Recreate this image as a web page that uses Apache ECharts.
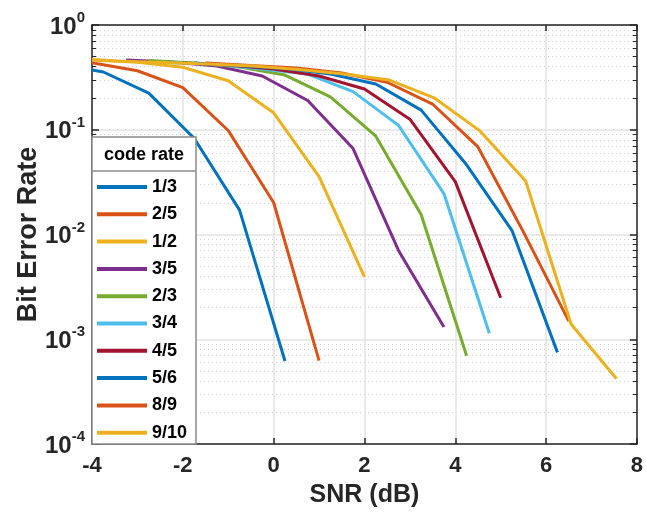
<!DOCTYPE html>
<html>
<head>
<meta charset="utf-8">
<script src="https://cdn.jsdelivr.net/npm/echarts@6/dist/echarts.min.js"></script>
<style>
html,body{margin:0;padding:0;background:#fff;}
#chart{width:646px;height:513px;}
</style>
</head>
<body>
<div id="chart"></div>
<script>
// ---- data ----
const rateNames = ['1/3','2/5','1/2','3/5','2/3','3/4','4/5','5/6','8/9','9/10'];
const rateColors = ['#0072BD','#D95319','#EDB120','#7E2F8E','#77AC30','#4DBEEE','#A2142F','#0072BD','#D95319','#EDB120'];

const snr_1_3 = [-4, -3.75, -2.75, -1.75, -0.75, 0.25];
const ber_1_3 = [0.372, 0.356, 0.224, 0.083, 0.0171, 0.00062];

const snr_2_5 = [-4, -3, -2, -1, 0, 1];
const ber_2_5 = [0.437, 0.366, 0.252, 0.0984, 0.0202, 0.000624];

const snr_1_2 = [-4, -3, -2, -1, 0, 1, 2];
const ber_1_2 = [0.463, 0.44, 0.395, 0.294, 0.145, 0.0356, 0.00395];

const snr_3_5 = [-3.25, -2.25, -1.25, -0.25, 0.75, 1.75, 2.75, 3.75];
const ber_3_5 = [0.463, 0.443, 0.406, 0.326, 0.190, 0.0661, 0.00705, 0.00131];

const snr_2_3 = [-2.75, -1.75, -0.75, 0.25, 1.25, 2.25, 3.25, 4.25];
const ber_2_3 = [0.458, 0.434, 0.397, 0.333, 0.206, 0.0868, 0.01545, 0.000695];

const snr_3_4 = [-2.25, -1.25, -0.25, 0.75, 1.75, 2.75, 3.75, 4.75];
const ber_3_4 = [0.437, 0.42, 0.38, 0.34, 0.231, 0.110, 0.0246, 0.00114];

const snr_4_5 = [-2, -1, 0, 1, 2, 3, 4, 5];
const ber_4_5 = [0.434, 0.415, 0.38, 0.326, 0.245, 0.126, 0.032, 0.00249];

const snr_5_6 = [-1.75, -0.75, 0.25, 1.25, 2.25, 3.25, 4.25, 5.25, 6.25];
const ber_5_6 = [0.434, 0.41, 0.385, 0.34, 0.273, 0.154, 0.0463, 0.0109, 0.000749];

const snr_8_9 = [-1.5, -0.5, 0.5, 1.5, 2.5, 3.5, 4.5, 5.5, 6.5];
const ber_8_9 = [0.434, 0.41, 0.389, 0.348, 0.284, 0.176, 0.0685, 0.0106, 0.00149];

const snr_9_10 = [-4, -3.45, -2.45, -1.45, -0.45, 0.55, 1.55, 2.55, 3.55, 4.55, 5.55, 6.55, 7.55];
const ber_9_10 = [0.469, 0.453, 0.439, 0.424, 0.406, 0.376, 0.34, 0.298, 0.2, 0.097, 0.0324, 0.0014, 0.00042];

const snrLists = [snr_1_3, snr_2_5, snr_1_2, snr_3_5, snr_2_3, snr_3_4, snr_4_5, snr_5_6, snr_8_9, snr_9_10];
const berLists = [ber_1_3, ber_2_5, ber_1_2, ber_3_5, ber_2_3, ber_3_4, ber_4_5, ber_5_6, ber_8_9, ber_9_10];

const xMin = -4, xMax = 8, xStep = 2;
const yMin = 1e-4, yMax = 1;
const xTitle = 'SNR (dB)';
const yTitle = 'Bit Error Rate';
const legendTitle = 'code rate';

// ---- chart ----
const FONT = '"Liberation Sans", Arial, Helvetica, sans-serif';
const AX = '#262626';
const chart = echarts.init(document.getElementById('chart'), null, {renderer: 'canvas'});

const series = rateNames.map((n, i) => ({
  name: n,
  type: 'line',
  data: snrLists[i].map((x, k) => [x, berLists[i][k]]),
  showSymbol: false,
  symbol: 'none',
  lineStyle: {width: 3, color: rateColors[i]},
  itemStyle: {color: rateColors[i]},
  emphasis: {disabled: true},
  z: 3,
  clip: true
}));

const G = {left: 92, right: 2, top: 25, bottom: 69};

chart.setOption({
  animation: false,
  backgroundColor: '#fff',
  grid: G,
  xAxis: [{
    type: 'value', min: xMin, max: xMax, interval: xStep,
    position: 'bottom',
    axisLine: {show: true, onZero: false, lineStyle: {color: AX, width: 1.5}},
    axisTick: {show: true, inside: true, length: 6, lineStyle: {color: AX, width: 1.5}},
    axisLabel: {color: AX, fontFamily: FONT, fontWeight: 'bold', fontSize: 22, margin: 11},
    splitLine: {show: true, lineStyle: {color: '#e3e3e3', width: 1.5}},
    name: xTitle, nameLocation: 'middle', nameGap: 39, nameMoveOverlap: false,
    nameTextStyle: {color: AX, fontFamily: FONT, fontWeight: 'bold', fontSize: 25}
  }, {
    type: 'value', min: xMin, max: xMax, interval: xStep,
    position: 'top',
    axisLine: {show: true, onZero: false, lineStyle: {color: AX, width: 1.5}},
    axisTick: {show: true, inside: true, length: 6, lineStyle: {color: AX, width: 1.5}},
    axisLabel: {show: false},
    splitLine: {show: false}
  }],
  yAxis: [{
    type: 'log', logBase: 10, min: yMin, max: yMax,
    position: 'left',
    axisLine: {show: true, onZero: false, lineStyle: {color: AX, width: 1.5}},
    axisTick: {show: true, inside: true, length: 7, lineStyle: {color: AX, width: 1.5}},
    minorTick: {show: true, splitNumber: 9, length: 4, lineStyle: {color: AX, width: 1}},
    minorSplitLine: {show: true, lineStyle: {color: '#cfcfcf', width: 1, type: [1, 3]}},
    splitLine: {show: true, lineStyle: {color: '#e3e3e3', width: 1.5}},
    axisLabel: {
      margin: 7,
      formatter: function (v) {
        const e = Math.round(Math.log10(v));
        return '{b|10}{s|' + e + '}';
      },
      rich: {
        b: {color: AX, fontFamily: FONT, fontWeight: 'bold', fontSize: 24, padding: [4, 0, 0, 0]},
        s: {color: AX, fontFamily: FONT, fontWeight: 'bold', fontSize: 15, padding: [0, 0, 14, 0]}
      }
    },
    name: yTitle, nameLocation: 'middle', nameGap: 50, nameMoveOverlap: false,
    nameTextStyle: {color: AX, fontFamily: FONT, fontWeight: 'bold', fontSize: 27}
  }, {
    type: 'log', logBase: 10, min: yMin, max: yMax,
    position: 'right',
    axisLine: {show: true, onZero: false, lineStyle: {color: AX, width: 1.5}},
    axisTick: {show: true, inside: true, length: 7, lineStyle: {color: AX, width: 1.5}},
    minorTick: {show: true, splitNumber: 9, length: 4, lineStyle: {color: AX, width: 1}},
    axisLabel: {show: false},
    splitLine: {show: false}
  }],
  legend: {
    data: rateNames,
    orient: 'vertical',
    left: 97, top: 177,
    padding: 0,
    itemWidth: 50, itemHeight: 4,
    itemGap: 7.3,
    icon: 'rect',
    z: 30,
    selectedMode: false,
    textStyle: {color: '#000', fontFamily: FONT, fontWeight: 'bold', fontSize: 18, lineHeight: 20}
  },
  graphic: [
    {type: 'rect', z: 20, shape: {x: 92, y: 137, width: 104, height: 307},
     style: {fill: '#fff', stroke: '#8c8c8c', lineWidth: 1.5}},
    {type: 'line', z: 21, shape: {x1: 92, y1: 171, x2: 196, y2: 171},
     style: {stroke: '#8c8c8c', lineWidth: 1.5}},
    {type: 'text', z: 21, x: 144, y: 155,
     style: {text: legendTitle, fill: '#000', font: 'bold 18px ' + FONT, textAlign: 'center', textVerticalAlign: 'middle'}}
  ],
  series: series
});
</script>
</body>
</html>
